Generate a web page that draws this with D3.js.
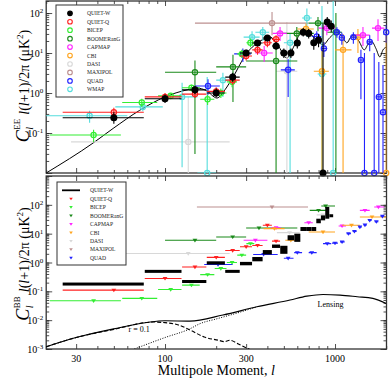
<!DOCTYPE html>
<html><head><meta charset="utf-8">
<script src="https://cdn.jsdelivr.net/npm/d3@7"></script>
<style>body{margin:0;background:#fff}svg{display:block}text{font-family:"Liberation Serif","DejaVu Serif",serif;fill:#000}</style>
</head><body><svg id="c" width="390" height="379"></svg>
<script>
// ---------- DATA ----------
// EE points: [l, value, lLo, lHi, errLo, errHi]   (value <= 0 : plotted at the bottom)
const eeQuietW = [
 [50,0.24,25,75,0.17,0.33],[100,0.72,76,125,0.56,0.92],[150,1.2,126,175,0.95,1.5],[200,1.0,176,225,0.78,1.3],
 [250,2.5,226,275,1.9,3.2],[300,10,276,325,8.5,12],[350,17.8,326,375,15,21],[400,23.7,376,425,20,28],
 [450,15,426,475,12,19],[500,10,476,525,7.5,13],[550,10,526,575,7.5,13],[600,17.8,576,625,13,23],
 [650,33,626,675,26,42],[700,31,676,725,23,40],[750,18,726,775,12,26],[800,21,776,825,14,30],
 [850,-1,826,875,-1,55],[900,60,876,925,45,80],[950,47,926,975,33,65]];
const eeQuietQ = [
 [50,0.33,25,75,0.25,0.43],[100,0.8,76,125,0.62,1.0],[150,0.94,126,175,0.75,1.2],[200,1.1,176,225,0.85,1.4],
 [250,2.1,226,275,1.6,2.8],[300,8.4,276,325,6.5,10.5],[350,12,326,375,9,15],[400,18,376,425,14,23],[450,22,426,475,17,28]];
const eeBicep = [
 [38,0.089,21,55,0.06,0.12],[73,0.58,56,90,0.45,0.72],[108,0.85,91,125,0.7,1.0],[143,1.35,126,160,1.1,1.6],
 [178,0.7,161,195,0.5,0.9],[213,1.0,196,230,0.75,1.3],[248,1.9,231,265,1.4,2.5],[283,9.5,266,300,7.5,12],[318,18,301,335,14,23]];
const eeBoom = [
 [150,3.3,100,200,0.03,6.5],[251,4.5,200,300,0.6,9],[450,6.3,300,600,-1,20],[596,31,450,750,18,45],
 [794,56,700,900,35,80],[1012,33,900,1100,-1,100]];
const eeCapmap = [
 [383,10,340,430,6,15],[475,31,430,520,20,45],[895,42,800,1000,28,60],[1460,28,1300,1600,15,45],[1790,42,1650,1950,20,70]];
const eeCbi = [
 [675,40,600,750,28,55],[838,3.5,750,920,-1,12],[1115,12,1000,1250,-1,30],[1364,25,1250,1500,10,40],[2000,-1,1800,2100,-1,30]];
const eeDasi = [[137,0.06,28,240,-1,0.8],[521,3.5,450,600,-1,60]];
const eeMaxipol = [[426,56,150,700,28,106]];
const eeQuad = [
 [179,1.5,150,210,0.9,2.2],[287,9.5,255,320,6,13],[530,3.8,480,580,0.8,7],[781,26,730,830,18,35],[860,13,830,900,8,19],
 [1026,33,980,1080,24,44],[1097,24,1060,1140,16,32],[1282,25,1230,1340,17,33],[1420,6.7,1370,1480,0.7,12],
 [1600,19,1540,1660,11,28],[1810,0.8,1750,1870,-1,6],[1915,0.33,1870,1960,-1,5],[2000,33,1960,2050,18,50],
 [1490,-1,1440,1540,-1,10],[1700,-1,1650,1760,-1,10]];
const eeWmap = [
 [36,0.27,15,60,0.18,0.36],[74,0.45,51,97,0.35,0.58],[126,0.8,110,155,0.014,1.8],[177,-1,155,200,-1,2.5],
 [219,2.1,200,240,0.8,3.2],[325,25,290,360,15,35],[376,33,340,410,20,45],[544,18,500,590,-1,30],
 [683,75,640,730,25,130],[838,3,790,890,-1,150],[975,-1,930,1020,-1,200]];
// EE theory curve: [l, value]
const eeModel = [[20,0.01],[37.7,0.056],[49.5,0.13],[71,0.37],[100,0.8],[135,1.2],[154,1.33],[175,1.15],[202,0.75],
 [225,1.2],[251,2.5],[303,10],[350,18],[398,24],[415,25],[460,16],[521,7.5],[570,14],[622,31],[663,37],[720,30],
 [790,20],[850,16],[930,24],[1026,33],[1100,26],[1175,18],[1230,24],[1282,28],[1380,20],[1487,12],[1570,17],
 [1650,19],[1740,13],[1835,8],[1915,12],[2000,14]];

// BB : QUIET-W boxes [lLo, lHi, vLo, vHi]
const bbQuietW = [
 [25,75,0.16,0.2],[76,125,0.45,0.54],[126,175,0.2,0.24],[176,225,0.85,1.1],[226,275,0.45,0.54],
 [276,325,0.8,1.05],[326,375,1.1,1.55],[376,425,1.9,2.7],[426,475,3.2,4.2],[476,525,2.0,3.8],
 [526,575,5.9,8.8],[576,625,5.2,10],[626,675,12.4,17],[676,725,12.4,17],[726,775,12.4,17],
 [776,825,23,33],[826,875,29,43],[876,925,33,84],[926,975,38,46]];
// BB upper limits [l, value, lLo, lHi]
const bbQuietQ = [[50,0.11,25,75],[100,0.28,76,125],[150,0.7,126,175],[200,1.5,176,225],[250,2.6,226,275],
 [300,3.5,276,325],[350,3.9,326,375],[400,19.6,376,425],[450,5.5,426,475]];
const bbBicep = [[38,0.047,21,55],[73,0.057,56,90],[108,0.116,91,125],[143,0.164,126,160],[178,0.38,161,195],
 [213,0.62,196,230],[248,1.0,231,265],[283,1.8,266,300],[318,4.5,301,335]];
const bbBoom = [[150,5.9,100,200],[250,7.7,200,300],[357,15.7,300,600],[800,64,710,900],[880,91,830,1000]];
const bbCapmap = [[340,5.9,290,400],[450,16,420,480],[700,24,660,740],[1100,18.5,1050,1160],[1500,64,1400,1600],[1800,84,1700,1950]];
const bbCbi = [[440,15,380,505],[550,5.9,510,620],[850,11.4,700,1000],[1250,19.5,1100,1400],[1650,38,1400,2000]];
const bbDasi = [[137,2.05,28,240],[540,10.9,455,620],[850,45,780,950]];
const bbMaxipol = [[426,84,154,694]];
const bbQuad = [[205,0.85,170,250],[380,1.9,330,460],[530,1.4,500,570],[600,2.2,575,640],[730,2.2,700,780],
 [900,4.5,850,950],[1000,4.7,960,1040],[1100,5.2,1070,1140],[1200,10,1170,1240],[1300,12,1270,1340],
 [1400,17,1370,1440],[1500,20,1470,1540],[1600,29,1570,1640],[1750,26,1710,1800],[1900,40,1850,1950]];
// BB model curves [l, value]
const bbTotal = [[20,0.0012],[30,0.0025],[50,0.005],[80,0.0085],[100,0.0095],[140,0.0093],[219,0.0151],[347,0.029],
 [544,0.05],[683,0.068],[850,0.078],[1070,0.074],[1350,0.065],[1670,0.057],[2000,0.038]];
const bbTensor = [[20,0.0012],[30,0.0025],[50,0.0048],[85,0.0086],[100,0.0082],[120,0.0068],[140,0.0046],[170,0.0026],
 [207,0.002],[223,0.0018],[240,0.002],[270,0.0015],[300,0.0011],[340,0.0008]];
const bbLens = [[66,0.001],[100,0.0025],[140,0.005],[160,0.0075],[200,0.011],[260,0.017],[347,0.029]];

const xTicks = [30,100,300,1000];
const yLabelsTop = [-1,0,1,2];
const yLabelsBot = [-3,-2,-1,0,1,2];
const legendEE = ["QUIET-W","QUIET-Q","BICEP","BOOMERanG","CAPMAP","CBI","DASI","MAXIPOL","QUAD","WMAP"];
const legendBB = ["QUIET-W","QUIET-Q","BICEP","BOOMERanG","CAPMAP","CBI","DASI","MAXIPOL","QUAD"];

// ---------- STYLE ----------
const col = {"QUIET-W":"#000","QUIET-Q":"#ff2020","BICEP":"#33ee33","BOOMERanG":"#1a8a1a","CAPMAP":"#ff22ff",
 "CBI":"#ffa520","DASI":"#d8d8d8","MAXIPOL":"#bc8f8f","QUAD":"#2222ff","WMAP":"#55dddd"};

const svg = d3.select("#c");
const L = 46.2, R = 386.5;
const x = d3.scaleLog().domain([20,2000]).range([46.2,386.2]);
const yT = d3.scaleLog().domain([0.01,200]).range([173,1]);
const yB = d3.scaleLog().domain([0.001,1000]).range([349,176]);

function clip(id, y0, y1){
  svg.append("clipPath").attr("id",id).append("rect").attr("x",L).attr("y",y0).attr("width",R-L).attr("height",y1-y0);
}
clip("cT",1,173); clip("cB",176,349);

function frame(y, y0, y1, labs){
  const g = svg.append("g");
  const major = y.ticks().filter(v=>Math.abs(Math.log10(v)-Math.round(Math.log10(v)))<1e-6);
  g.append("g").attr("transform",`translate(${L},0)`).call(d3.axisRight(y).tickValues(major).tickSize(6).tickFormat(""));
  g.append("g").attr("transform",`translate(${L},0)`).call(d3.axisRight(y).ticks(20).tickSize(3).tickFormat(""));
  g.append("g").attr("transform",`translate(${R},0)`).call(d3.axisLeft(y).tickValues(major).tickSize(6).tickFormat(""));
  g.append("g").attr("transform",`translate(${R},0)`).call(d3.axisLeft(y).ticks(20).tickSize(3).tickFormat(""));
  const xmin = [20,40,50,60,70,80,90,200,400,500,600,700,800,900,2000];
  g.append("g").attr("transform",`translate(0,${y1})`).call(d3.axisTop(x).tickValues(xTicks).tickSize(5).tickFormat(""));
  g.append("g").attr("transform",`translate(0,${y1})`).call(d3.axisTop(x).tickValues(xmin).tickSize(3).tickFormat(""));
  g.append("g").attr("transform",`translate(0,${y0})`).call(d3.axisBottom(x).tickValues(xTicks).tickSize(5).tickFormat(""));
  g.append("g").attr("transform",`translate(0,${y0})`).call(d3.axisBottom(x).tickValues(xmin).tickSize(3).tickFormat(""));
  g.selectAll(".domain").remove();
  g.selectAll("line").attr("stroke","#222").attr("stroke-width",0.8);
  g.append("rect").attr("x",L).attr("y",y0).attr("width",R-L).attr("height",y1-y0)
    .attr("fill","none").attr("stroke","#333").attr("stroke-width",1.3);
  labs.forEach(e=>{
    const yy = y(Math.pow(10,e));
    const t = g.append("text").attr("x",L-3).attr("y",yy+4).attr("text-anchor","end").style("font-size","10px");
    t.append("tspan").text("10");
    t.append("tspan").attr("dy",-4).style("font-size","7px").text(e);
  });
}

function curve(y, data, cp, dash, w){
  const line = d3.line().x(d=>x(d[0])).y(d=>y(d[1])).curve(d3.curveMonotoneX);
  svg.append("path").attr("d",line(data)).attr("clip-path",`url(#${cp})`).attr("fill","none")
    .attr("stroke","#000").attr("stroke-width",w||1).attr("stroke-dasharray",dash||null);
}

function eePoints(data, name){
  const c = col[name];
  const yb = yT.range()[0];
  const yv = v => v>0 ? yT(v) : yb;
  const g = svg.append("g").attr("clip-path","url(#cT)");
  data.forEach(d=>{
    g.append("line").attr("x1",x(d[2])).attr("x2",x(d[3])).attr("y1",yv(d[1])).attr("y2",yv(d[1])).attr("stroke",c).attr("stroke-width",1.1);
    g.append("line").attr("x1",x(d[0])).attr("x2",x(d[0])).attr("y1",yv(d[4])).attr("y2",yv(d[5])).attr("stroke",c).attr("stroke-width",1.1);
  });
  const g2 = svg.append("g");
  data.forEach(d=>{
    const cy = yv(d[1]);
    g2.append("circle").attr("cx",x(d[0])).attr("cy",cy).attr("r",name==="QUIET-W"?2.9:2.6)
      .attr("fill",name==="QUIET-W"?"#000":"none").attr("stroke",c).attr("stroke-width",1.25);
  });
}

function tri(g, cx, cy, c, s){
  s = s||2.4;
  g.append("path").attr("d",`M${cx-s},${cy-s*0.6}L${cx+s},${cy-s*0.6}L${cx},${cy+s*0.9}Z`).attr("fill",c);
}

function bbLimits(data, name){
  const c = col[name];
  const g = svg.append("g").attr("clip-path","url(#cB)");
  data.forEach(d=>{
    g.append("line").attr("x1",x(d[2])).attr("x2",x(d[3])).attr("y1",yB(d[1])).attr("y2",yB(d[1])).attr("stroke",c).attr("stroke-width",1.1);
    tri(g, x(d[0]), yB(d[1]), c);
  });
}

// ---------- TOP PANEL ----------
frame(yT, 1, 173, yLabelsTop);
curve(yT, eeModel, "cT", null, 1);
eePoints(eeDasi,"DASI");
eePoints(eeMaxipol,"MAXIPOL");
eePoints(eeWmap,"WMAP");
eePoints(eeBoom,"BOOMERanG");
eePoints(eeCbi,"CBI");
eePoints(eeCapmap,"CAPMAP");
eePoints(eeQuad,"QUAD");
eePoints(eeBicep,"BICEP");
eePoints(eeQuietQ,"QUIET-Q");
eePoints(eeQuietW,"QUIET-W");

// ---------- BOTTOM PANEL ----------
frame(yB, 176, 349, yLabelsBot);
curve(yB, bbTotal, "cB", null, 1.1);
curve(yB, bbTensor, "cB", "4,2", 1.1);
curve(yB, bbLens, "cB", "1,1.5", 1);
bbLimits(bbMaxipol,"MAXIPOL");
bbLimits(bbDasi,"DASI");
bbLimits(bbBoom,"BOOMERanG");
bbLimits(bbCapmap,"CAPMAP");
bbLimits(bbCbi,"CBI");
bbLimits(bbQuad,"QUAD");
bbLimits(bbBicep,"BICEP");
bbLimits(bbQuietQ,"QUIET-Q");
{
  const g = svg.append("g").attr("clip-path","url(#cB)");
  bbQuietW.forEach(d=>{
    const y0 = yB(d[3]), y1 = yB(d[2]);
    const h = Math.max(y1-y0, 3);
    g.append("rect").attr("x",x(d[0])).attr("width",x(d[1])-x(d[0])).attr("y",(y0+y1)/2-h/2).attr("height",h).attr("fill","#000");
  });
}
svg.append("text").attr("x",x(790)).attr("y",yB(0.028)).style("font-size","8px").text("Lensing");
svg.append("text").attr("x",x(61)).attr("y",yB(0.0039)).style("font-size","8px").text("r = 0.1");

// ---------- LEGENDS ----------
function legend(x0, y0, w, h, items, isBB, tx){
  const g = svg.append("g");
  g.append("rect").attr("x",x0).attr("y",y0).attr("width",w).attr("height",h).attr("fill","#fff").attr("stroke","#333").attr("stroke-width",1);
  items.forEach((n,i)=>{
    const yy = y0+8.3+i*8.45;
    if (isBB){
      if (n==="QUIET-W") g.append("line").attr("x1",62).attr("x2",80).attr("y1",yy).attr("y2",yy).attr("stroke","#000").attr("stroke-width",1.8);
      else tri(g,71,yy,col[n],1.8);
    } else {
      g.append("circle").attr("cx",70).attr("cy",yy).attr("r",2.3).attr("fill",n==="QUIET-W"?"#000":"none").attr("stroke",col[n]).attr("stroke-width",1.1);
    }
    g.append("text").attr("x",tx).attr("y",yy+2).style("font-size","5.6px").style("fill","#222").text(n.toUpperCase().replace("BOOMERANG","BOOMERanG"));
  });
}
legend(56, 5, 67, 92, legendEE, false, 87);
legend(57, 182, 69, 83, legendBB, true, 90);

// ---------- AXIS TEXT ----------
xTicks.forEach(v=>{
  svg.append("text").attr("x",x(v)).attr("y",362).attr("text-anchor","middle").style("font-size","10px").text(v);
});
const xl = svg.append("text").attr("x",(L+R)/2).attr("y",375).attr("text-anchor","middle").style("font-size","14px");
xl.append("tspan").text("Multipole Moment, ");
xl.append("tspan").style("font-style","italic").text("l");

function ylab(cy, sup){
  const outer = svg.append("g").attr("transform",`translate(29,${cy}) rotate(-90)`);
  const g = outer.append("g");
  let xp = 0;
  const C = g.append("text").attr("x",0).attr("y",0).style("font-size","18px").style("font-style","italic").text("C");
  xp += C.node().getComputedTextLength()+0.5;
  const sp = g.append("text").attr("x",xp).attr("y",-9).style("font-size","9px").text(sup);
  g.append("text").attr("x",xp).attr("y",4).style("font-size","10px").style("font-style","italic").text("l");
  xp += sp.node().getComputedTextLength()+4;
  const m = g.append("text").attr("x",xp).attr("y",0).style("font-size","14px");
  m.append("tspan").style("font-style","italic").text("l");
  m.append("tspan").text("(");
  m.append("tspan").style("font-style","italic").text("l");
  m.append("tspan").text("+1)/2π (μK");
  m.append("tspan").attr("dy",-6).style("font-size","9px").text("2");
  m.append("tspan").attr("dy",6).text(")");
  xp += m.node().getComputedTextLength();
  g.attr("transform",`translate(${-xp/2},0)`);
}
ylab(86, "EE");
ylab(264, "BB");
</script></body></html>
